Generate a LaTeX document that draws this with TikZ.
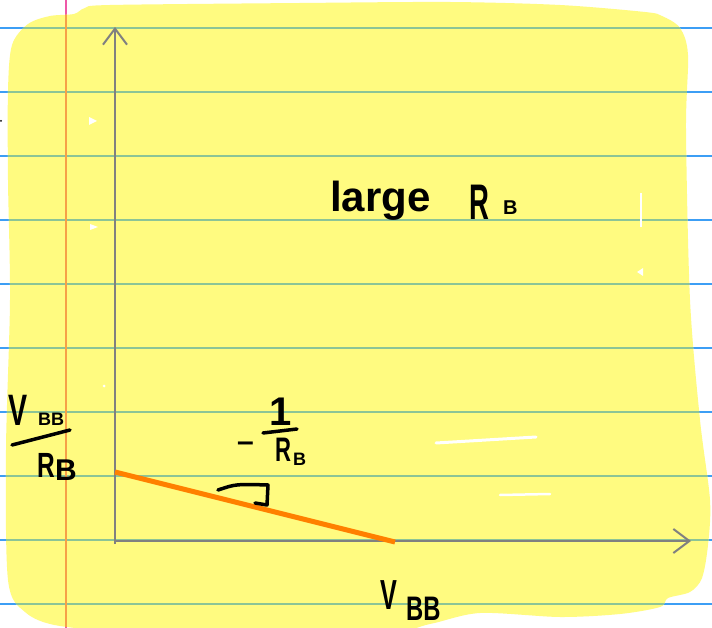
\documentclass[tikz,border=0pt]{standalone}
\usepackage{fontspec}
\setmainfont{Liberation Sans}
\usepackage{tikz}
\usetikzlibrary{arrows.meta, positioning, calc}
\definecolor{padyellow}{RGB}{255,251,128}
\definecolor{ruleblue}{RGB}{60,158,245}
\definecolor{rulegreen}{RGB}{140,196,150}
\definecolor{marginpink}{RGB}{238,88,168}
\definecolor{marginorange}{RGB}{246,160,72}
\definecolor{axisgrey}{RGB}{128,128,128}
\definecolor{loadline}{RGB}{255,128,0}
\newcommand{\fsz}[1]{\fontsize{#1}{#1}\selectfont}
\newcommand{\padpath}{plot[smooth cycle] coordinates {
  (8,90) (12,45) (28,24) (50,16) (74,14) (85,8) (110,5) (300,3) (450,2)
  (560,5) (645,12) (662,16) (680,28) (688,55) (686,130) (690,300) (700,420)
  (710,500) (708,545) (702,578) (690,592) (668,598) (660,607) (620,614)
  (560,617) (480,613) (430,624) (380,632) (150,632) (60,626) (25,612)
  (8,580) (6,450) (10,300) (8,180)}}
\tikzset{
  ruleline/.style={line width=1.5pt},
  marginline/.style={line width=2pt},
  axisline/.style={line width=2pt,draw=axisgrey,-{Straight Barb[length=16pt,width=24pt]}},
  loadedge/.style={line width=5pt,draw=loadline},
  inkmark/.style={line width=3.5pt,line cap=round,line join=round},
  ink/.style={inner sep=0pt,anchor=base west,font=\bfseries\fsz{#1}},
  fleck/.style={fill=white,draw=none},
}

\begin{document}
\begin{tikzpicture}[x=1pt,y=-1pt]
  \useasboundingbox (0,0) rectangle (712,628);
  \fill[white] (0,0) rectangle (712,628);
  % ruled paper
  \foreach \ry in {28,92,...,604}
    \draw[ruleline,ruleblue] (0,\ry) -- (712,\ry);
  \draw[marginline,marginpink] (66,0) -- (66,628);
  % highlighter pad
  \fill[padyellow] \padpath;
  \begin{scope}
    \clip \padpath;
    \foreach \ry in {28,92,...,604}
      \draw[ruleline,rulegreen] (0,\ry) -- (712,\ry);
    \draw[marginline,marginorange] (66,0) -- (66,628);
  \end{scope}
  \draw[white,line width=3pt,line cap=round] (436,443) -- (536,437);
  \draw[white,line width=2.5pt,line cap=round] (500,495) -- (550,494);
  \fill[fleck] (89,117) -- (97,121) -- (89,125) -- cycle;
  \fill[fleck] (90,224) -- (98,227) -- (90,230) -- cycle;
  \fill[fleck] (640,193) -- (642,193) -- (642,227) -- (640,227) -- cycle;
  \fill[fleck] (637,272) -- (643,268) -- (643,276) -- cycle;
  \fill[fleck] (104,386) circle (1.5);
  \fill[black] (1,121) circle (1);

  % axes
  \coordinate (origin) at (115,541);
  \coordinate (ytip) at (115,27);
  \coordinate (xtip) at (691,541);
  \draw[axisline] ($(origin)+(0,3)$) -- (ytip);
  \draw[axisline] ($(origin)+(-1,0)$) -- (xtip);

  % load line
  \coordinate (ycut) at (115,472);
  \coordinate (xcut) at (395,542);
  \draw[loadedge] (ycut) -- (xcut);
  \draw[inkmark] (218,490) .. controls (236,484) .. (268,485) -- (267,505) -- (255,503);

  % labels
  \node[ink=42] (large) at (330,212) {large};
  \node[ink=50,xscale=0.55] (rbig) at (469,220) {R};
  \node[ink=20] (bbig) at (503,215) {B};

  \node[ink=44,xscale=0.65] (vnum) at (8,425) {V};
  \node[ink=18] (bbnum) at (38,425) {BB};
  \draw[inkmark] (12,445) -- (70,430);
  \node[ink=35,xscale=0.7] (rden) at (37,477) {R};
  \node[ink=30] (bden) at (55,480) {B};

  \node[ink=30] (minus) at (237,451) {--};
  \node[ink=40,anchor=base] (one) at (281,425) {1};
  \draw[inkmark] (263,433) -- (297,429);
  \node[ink=34,xscale=0.65] (rslope) at (275,461) {R};
  \node[ink=18] (bslope) at (293,465) {B};

  \node[ink=42,xscale=0.6] (vbb) at (380,609) {V};
  \node[ink=34,xscale=0.7] (bbsub) at (406,620) {BB};
\end{tikzpicture}
\end{document}
